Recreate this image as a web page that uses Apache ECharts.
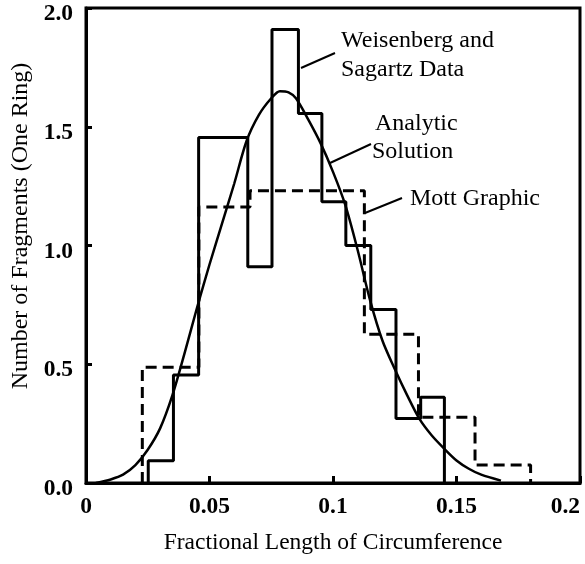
<!DOCTYPE html>
<html>
<head>
<meta charset="utf-8">
<script src="https://cdn.jsdelivr.net/npm/echarts@6/dist/echarts.min.js"></script>
<style>
html,body{margin:0;padding:0;background:#fff;}
#chart{width:585px;height:564px;}
</style>
</head>
<body>
<div id="chart"></div>
<script>
// ---- Data ----
// Weisenberg and Sagartz Data (solid histogram): bin edges and heights
var dataEdges = [0.0252, 0.0354, 0.0456, 0.0655, 0.0753, 0.0860, 0.0955, 0.1052, 0.1153, 0.1255, 0.1355, 0.1451];
var dataHeights = [0.094, 0.455, 1.455, 0.911, 1.910, 1.556, 1.184, 1.000, 0.731, 0.272, 0.361];
// Mott Graphic (dashed histogram)
var mottEdges = [0.0228, 0.0457, 0.0664, 0.1127, 0.1346, 0.1575, 0.1800];
var mottHeights = [0.487, 1.162, 1.231, 0.626, 0.277, 0.076];
// Analytic Solution (curve), traced points
var curveX = [0.004, 0.010, 0.015, 0.020, 0.025, 0.030, 0.035, 0.040, 0.045, 0.050, 0.055, 0.060, 0.065, 0.070, 0.075, 0.0785, 0.082, 0.085, 0.090, 0.095, 0.100, 0.105, 0.110, 0.115, 0.120, 0.125, 0.130, 0.135, 0.140, 0.145, 0.150, 0.155, 0.160, 0.168];
var curveY = [0.000, 0.015, 0.035, 0.075, 0.140, 0.230, 0.370, 0.550, 0.740, 0.920, 1.090, 1.260, 1.440, 1.550, 1.620, 1.650, 1.645, 1.620, 1.530, 1.430, 1.310, 1.170, 0.980, 0.770, 0.600, 0.480, 0.370, 0.270, 0.200, 0.145, 0.095, 0.060, 0.035, 0.010];
// Axis ticks
var xTicks = [0, 0.05, 0.1, 0.15, 0.2];
var yTicks = [0, 0.5, 1.0, 1.5, 2.0];
// Annotation texts
var labelWeisenberg = ['Weisenberg and', 'Sagartz Data'];
var labelAnalytic = ['Analytic', 'Solution'];
var labelMott = 'Mott Graphic';
var xTitle = 'Fractional Length of Circumference';
var yTitle = 'Number of Fragments (One Ring)';

function stepOutline(edges, heights) {
  var pts = [[edges[0], 0]];
  for (var i = 0; i < heights.length; i++) {
    pts.push([edges[i], heights[i]]);
    pts.push([edges[i + 1], heights[i]]);
  }
  pts.push([edges[edges.length - 1], 0]);
  return pts;
}
var curveData = curveX.map(function (x, i) { return [x, curveY[i]]; });

var FONT = '"Liberation Serif", "Times New Roman", serif';
var FS = 23.5;
var chart = echarts.init(document.getElementById('chart'));

var option = {
  animation: false,
  backgroundColor: '#fff',
  grid: { left: 86, right: 5, top: 8, bottom: 81, show: true, borderColor: '#000', borderWidth: 3,
    backgroundColor: 'transparent', containLabel: false, outerBoundsMode: 'none' },
  xAxis: {
    type: 'value', min: xTicks[0], max: xTicks[xTicks.length - 1], interval: 0.05,
    name: xTitle, nameLocation: 'middle', nameGap: 48,
    nameTextStyle: { fontFamily: FONT, fontSize: FS, color: '#000' },
    axisLine: { show: true, lineStyle: { color: '#000', width: 3 } },
    axisTick: { show: true, inside: true, length: 7, lineStyle: { color: '#000', width: 3 } },
    axisLabel: { fontFamily: FONT, fontSize: FS, fontWeight: 'bold', color: '#000', margin: 12,
      alignMaxLabel: 'right',
      formatter: function (v) { return String(+v.toFixed(2)); } },
    splitLine: { show: false }
  },
  yAxis: {
    type: 'value', min: yTicks[0], max: yTicks[yTicks.length - 1], interval: 0.5,
    axisLine: { show: true, lineStyle: { color: '#000', width: 3 } },
    axisTick: { show: true, inside: true, length: 6, lineStyle: { color: '#000', width: 3 } },
    axisLabel: { fontFamily: FONT, fontSize: FS, fontWeight: 'bold', color: '#000', margin: 13,
      verticalAlign: 'top', lineHeight: 12,
      formatter: function (v) { return v.toFixed(1); } },
    splitLine: { show: false }
  },
  series: [
    {
      name: 'Mott Graphic', type: 'line', data: stepOutline(mottEdges, mottHeights),
      symbol: 'none', lineStyle: { color: '#000', width: 3, type: [11, 6] }, z: 2
    },
    {
      name: 'Weisenberg and Sagartz Data', type: 'line', data: stepOutline(dataEdges, dataHeights),
      symbol: 'none', lineStyle: { color: '#000', width: 3 }, z: 3
    },
    {
      name: 'Analytic Solution', type: 'line', data: curveData, smooth: 0.3,
      symbol: 'none', lineStyle: { color: '#000', width: 2.5 }, z: 4
    }
  ],
  graphic: [
    { type: 'text', x: 21, y: 226, rotation: Math.PI / 2,
      style: { text: yTitle, font: '24px ' + FONT, fill: '#000', align: 'center', verticalAlign: 'middle' } },
    { type: 'text', x: 341, y: 41, style: { text: labelWeisenberg[0], font: '24px ' + FONT, fill: '#000', align: 'left', verticalAlign: 'middle' } },
    { type: 'text', x: 341, y: 70, style: { text: labelWeisenberg[1], font: '24px ' + FONT, fill: '#000', align: 'left', verticalAlign: 'middle' } },
    { type: 'text', x: 375, y: 124, style: { text: labelAnalytic[0], font: '24px ' + FONT, fill: '#000', align: 'left', verticalAlign: 'middle' } },
    { type: 'text', x: 372, y: 152, style: { text: labelAnalytic[1], font: '24px ' + FONT, fill: '#000', align: 'left', verticalAlign: 'middle' } },
    { type: 'text', x: 410, y: 199, style: { text: labelMott, font: '24px ' + FONT, fill: '#000', align: 'left', verticalAlign: 'middle' } },
    { type: 'line', shape: { x1: 301, y1: 68, x2: 335, y2: 53 }, style: { stroke: '#000', lineWidth: 2 } },
    { type: 'line', shape: { x1: 330, y1: 163, x2: 371, y2: 144 }, style: { stroke: '#000', lineWidth: 2 } },
    { type: 'line', shape: { x1: 365, y1: 213, x2: 402, y2: 198 }, style: { stroke: '#000', lineWidth: 2 } }
  ]
};
chart.setOption(option);
</script>
</body>
</html>
